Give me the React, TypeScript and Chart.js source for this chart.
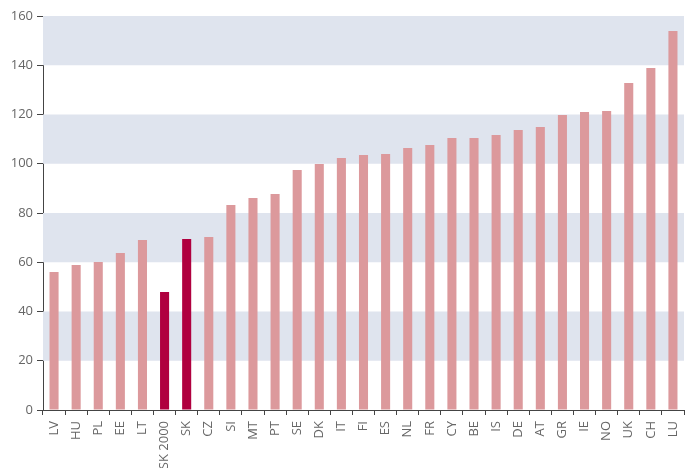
import React, { useEffect, useRef } from "react";
import { Chart, registerables } from "chart.js";

Chart.register(...registerables);

const categories = ["LV","HU","PL","EE","LT","SK 2000","SK","CZ","SI","MT","PT","SE","DK","IT","FI","ES","NL","FR","CY","BE","IS","DE","AT","GR","IE","NO","UK","CH","LU"];
const values = [56.0,58.9,60.1,63.8,69.0,47.9,69.4,70.3,83.2,86.1,87.7,97.5,99.9,102.3,103.6,104.0,106.4,107.6,110.5,110.5,111.7,113.7,114.9,119.8,121.0,121.4,132.8,138.9,153.9];
const highlighted = ["SK 2000", "SK"];
const yMin = 0;
const yMax = 160;
const yStep = 20;

const LIGHT = "#DC999C";
const DARK = "#B0003F";
const BAND = "#DFE4EE";

const bandsPlugin = {
  id: "bands",
  beforeDatasetsDraw(chart: any) {
    const { ctx, chartArea, scales } = chart;
    const y = scales.y;
    ctx.save();
    ctx.fillStyle = BAND;
    for (let v = yMin; v < yMax; v += yStep) {
      if ((v / yStep) % 2 === 1) {
        const top = y.getPixelForValue(v + yStep);
        const bot = y.getPixelForValue(v);
        ctx.fillRect(chartArea.left, top, chartArea.right - chartArea.left, bot - top);
      }
    }
    ctx.restore();
  },
};

export default function App() {
  const ref = useRef<HTMLCanvasElement>(null);
  useEffect(() => {
    document.body.style.margin = "0";
    const chart = new Chart(ref.current!, {
      type: "bar",
      data: {
        labels: categories,
        datasets: [
          {
            data: values,
            backgroundColor: categories.map((c) => (highlighted.includes(c) ? DARK : LIGHT)),
            borderWidth: 0,
            categoryPercentage: 1,
            barPercentage: 0.41,
          },
        ],
      },
      options: {
        animation: false,
        responsive: false,
        layout: { padding: { top: 16, right: 1, left: 0, bottom: 0 } },
        plugins: { legend: { display: false }, tooltip: { enabled: false } },
        scales: {
          x: {
            afterFit: (s: any) => { s.height = 58; s.paddingLeft = 0; s.paddingRight = 0; },
            border: { color: "#444", width: 1 },
            grid: { drawOnChartArea: false, tickColor: "#444", tickLength: 5, offset: true },
            ticks: {
              minRotation: 90,
              maxRotation: 90,
              autoSkip: false,
              color: "#666",
              padding: 6,
              font: { family: "Open Sans", size: 13 },
            },
          },
          y: {
            min: yMin,
            max: yMax,
            afterFit: (s: any) => { s.width = 43; },
            border: { color: "#444", width: 1 },
            grid: {
              color: (c: any) => (c.tick && c.tick.value === yMax ? "#BBBBBB" : "rgba(0,0,0,0)"),
              tickColor: "#444",
              tickLength: 6,
            },
            ticks: {
              stepSize: yStep,
              color: "#666",
              padding: 4,
              font: { family: "Open Sans", size: 13 },
            },
          },
        },
      },
      plugins: [bandsPlugin],
    });
    return () => chart.destroy();
  }, []);
  return (
    <div style={{ width: 685, height: 468, overflow: "hidden" }}>
      <canvas ref={ref} width={685} height={468} />
    </div>
  );
}
